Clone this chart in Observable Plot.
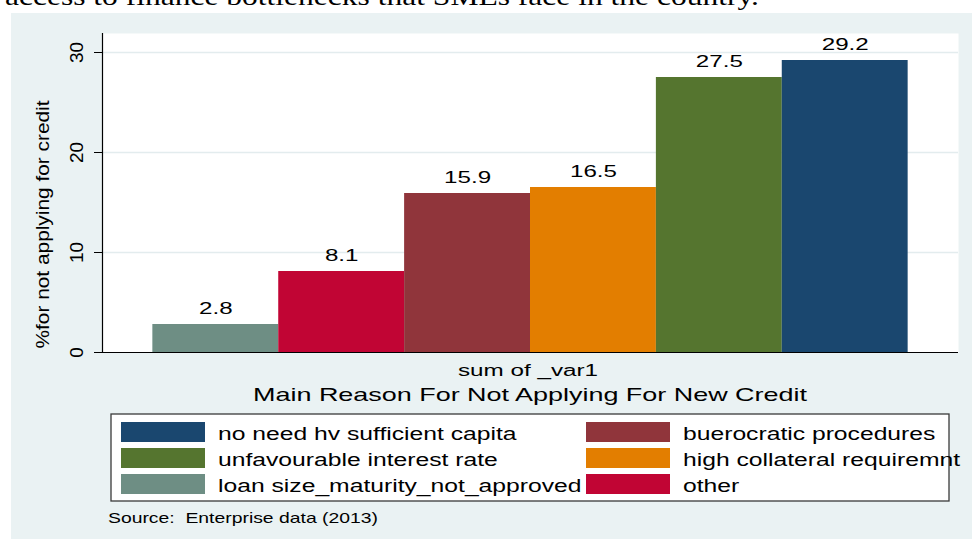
<!DOCTYPE html>
<html><head><meta charset="utf-8">
<script src="https://cdn.jsdelivr.net/npm/d3@7"></script>
<script src="https://cdn.jsdelivr.net/npm/@observablehq/plot@0.6"></script>
<style>
html,body{margin:0;padding:0;background:#fff;}
#chart{width:972px;height:540px;overflow:hidden;}
</style></head><body><div id="chart"></div>
<script>
const reasons = ["loan size_maturity_not_approved","other","buerocratic procedures","high collateral requiremnt","unfavourable interest rate","no need hv sufficient capita"];
const values = [2.8, 8.1, 15.9, 16.5, 27.5, 29.2];
const colors = ["#6e8e84","#c10534","#90353b","#e37e00","#55752f","#1a476f"];
const legendOrder = ["no need hv sufficient capita","unfavourable interest rate","loan size_maturity_not_approved","buerocratic procedures","high collateral requiremnt","other"];
const yTicks = [0,10,20,30];
const yLabel = "%for not applying for credit";
const xLabel = "sum of _var1";
const xTitle = "Main Reason For Not Applying For New Credit";
const note = "Source:  Enterprise data (2013)";
const topText = "access to finance bottlenecks that SMEs face in the country.";

const data = reasons.map((r,i)=>({reason:r, value:values[i]}));
const font = "'Liberation Sans', Arial, sans-serif";

const chart = Plot.plot({
  width: 972, height: 540,
  marginLeft: 102, marginRight: 14, marginTop: 33, marginBottom: 188,
  style: {background: "transparent", fontFamily: font, color: "#000", overflow: "visible"},
  x: {domain: reasons, axis: null, paddingInner: 0, paddingOuter: 0.4, round: false},
  y: {domain: [0, 31.9], axis: null},
  color: {domain: reasons, range: colors},
  marks: [
    Plot.frame({fill: "white", stroke: null}),
    Plot.gridY(yTicks.filter(d => d > 0), {stroke: "#e3ecee", strokeOpacity: 1, strokeWidth: 1.5}),
    Plot.barY(data, {x: "reason", y: "value", fill: "reason"}),
    Plot.text(data, {x: "reason", y: "value", text: d => d.value.toFixed(1), lineAnchor: "bottom", dy: -11, fontSize: 17, fill: "#000"}),
    Plot.ruleY([0], {stroke: "#000", strokeWidth: 1.2}),
    Plot.frame({anchor: "left", stroke: "#000", strokeWidth: 1.2, strokeOpacity: 1}),
    Plot.axisY({ticks: yTicks, tickSize: 8, tickFormat: () => "", label: null, stroke: "#000", strokeOpacity: 1}),
    Plot.text(yTicks, {y: d => d, text: d => String(d), frameAnchor: "left", textAnchor: "middle", rotate: -90, dx: -26, lineAnchor: "middle", fontSize: 19, fill: "#000"}),
    Plot.text([yLabel], {frameAnchor: "left", textAnchor: "middle", rotate: -90, dx: -59, dy: 31.5, lineAnchor: "middle", fontSize: 18, fill: "#000"})
  ]
});

document.getElementById("chart").append(chart);
const svg = d3.select(chart);
const color = chart.scale("color");

// figure background
svg.insert("rect", ":first-child")
  .attr("x", 11).attr("y", 13).attr("width", 961).attr("height", 526).attr("fill", "#eaf2f3");

function stretch(sel, k) {
  sel.each(function () {
    const L = this.getComputedTextLength();
    this.setAttribute("textLength", L * k);
    this.setAttribute("lengthAdjust", "spacingAndGlyphs");
  });
}
const textGroups = svg.selectAll('g[aria-label="text"]').nodes();
stretch(d3.select(textGroups[0]).selectAll("text"), 1.42);
d3.select(textGroups[2]).selectAll("text").attr("textLength", 248).attr("lengthAdjust", "spacingAndGlyphs");

const g = svg.append("g").attr("font-family", font).attr("fill", "#000");
function addText(x, y, str, size, len, anchor, family) {
  const t = g.append("text").attr("x", x).attr("y", y).attr("font-size", size)
    .attr("text-anchor", anchor || "start").text(str);
  if (family) t.attr("font-family", family);
  if (len) t.attr("textLength", len).attr("lengthAdjust", "spacingAndGlyphs");
  return t;
}
// top cut-off sentence
addText(5, 5, topText, 26, 754, "start", "'Liberation Serif', 'Times New Roman', serif");
// x titles
addText(528, 376, xLabel, 16, 140, "middle");
addText(530, 400.7, xTitle, 18.6, 554, "middle");
// legend
g.append("rect").attr("x", 111).attr("y", 414).attr("width", 838).attr("height", 87)
  .attr("fill", "#fff").attr("stroke", "#3a3a3a").attr("stroke-width", 1.3);
legendOrder.forEach((name, i) => {
  const col = Math.floor(i / 3), row = i % 3;
  const sx = col === 0 ? 121 : 586;
  const tx = col === 0 ? 218 : 683;
  const sy = 422 + row * 26;
  g.append("rect").attr("x", sx).attr("y", sy).attr("width", 84).attr("height", 20).attr("fill", color.apply(name));
  const t = addText(tx, sy + 17.5, name, 17.5, null, "start");
  stretch(t, 1.41);
});
// note
addText(108, 522.5, note, 15, 270, "start");
</script></body></html>
